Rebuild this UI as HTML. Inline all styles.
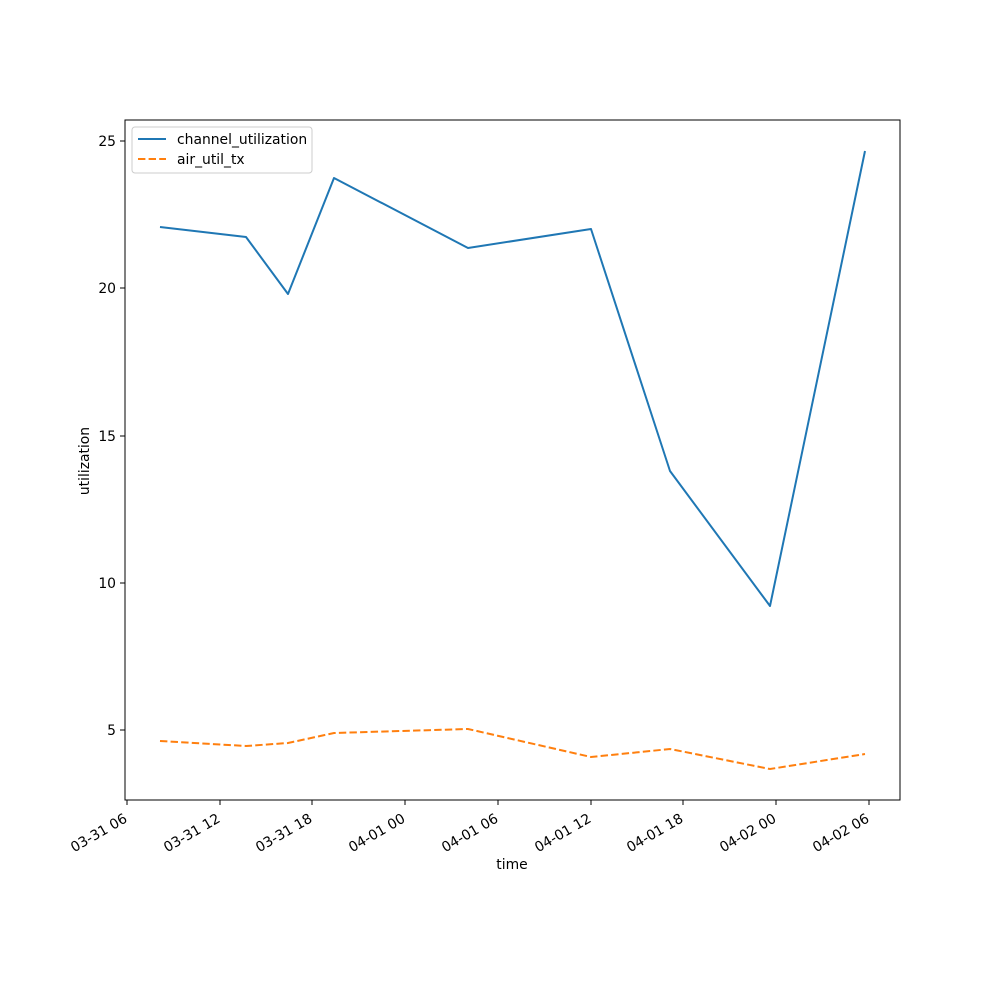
<!DOCTYPE html>
<html><head><style>body{margin:0;background:#fff}svg{display:block}</style></head>
<body>
<svg width="1000" height="1000" viewBox="0 0 1000 1000" xmlns="http://www.w3.org/2000/svg" font-family="DejaVu Sans, Liberation Sans, sans-serif" font-size="13.9">
<rect width="1000" height="1000" fill="#fff"/>
<polyline fill="none" stroke="#1f77b4" stroke-width="2" stroke-linejoin="round" points="160,227 246,237 288,294 334,178 468,248 591,229 670,471 770,606 865,151"/>
<polyline fill="none" stroke="#ff7f0e" stroke-width="2" stroke-dasharray="7.4,3.2" points="160,741 246,746 288,743 334,733 468,729 591,757 670,749 770,769 865,754"/>
<rect x="125" y="120" width="775" height="680" fill="none" stroke="#000" stroke-width="1"/>
<g stroke="#000">
<line x1="120" x2="125" y1="141" y2="141"/><line x1="120" x2="125" y1="288" y2="288"/><line x1="120" x2="125" y1="436" y2="436"/><line x1="120" x2="125" y1="583" y2="583"/><line x1="120" x2="125" y1="730" y2="730"/>
<line y1="800" y2="805" x1="127" x2="127"/><line y1="800" y2="805" x1="220" x2="220"/><line y1="800" y2="805" x1="312" x2="312"/><line y1="800" y2="805" x1="405" x2="405"/><line y1="800" y2="805" x1="498" x2="498"/><line y1="800" y2="805" x1="591" x2="591"/><line y1="800" y2="805" x1="683" x2="683"/><line y1="800" y2="805" x1="776" x2="776"/><line y1="800" y2="805" x1="869" x2="869"/>
</g>
<g text-anchor="end">
<text x="116" y="146">25</text><text x="116" y="293">20</text><text x="116" y="441">15</text><text x="116" y="588">10</text><text x="116" y="735">5</text>
</g>
<g text-anchor="end">
<text transform="translate(124,814) rotate(-30)" dy="0.6em">03-31 06</text>
<text transform="translate(217,814) rotate(-30)" dy="0.6em">03-31 12</text>
<text transform="translate(309,814) rotate(-30)" dy="0.6em">03-31 18</text>
<text transform="translate(402,814) rotate(-30)" dy="0.6em">04-01 00</text>
<text transform="translate(495,814) rotate(-30)" dy="0.6em">04-01 06</text>
<text transform="translate(588,814) rotate(-30)" dy="0.6em">04-01 12</text>
<text transform="translate(680,814) rotate(-30)" dy="0.6em">04-01 18</text>
<text transform="translate(773,814) rotate(-30)" dy="0.6em">04-02 00</text>
<text transform="translate(866,814) rotate(-30)" dy="0.6em">04-02 06</text>
</g>
<text x="512" y="869" text-anchor="middle">time</text>
<text transform="translate(89,461) rotate(-90)" text-anchor="middle">utilization</text>
<rect x="132" y="127" width="180" height="46" rx="3" fill="#fff" fill-opacity="0.8" stroke="#ccc"/>
<line x1="138" x2="166" y1="139" y2="139" stroke="#1f77b4" stroke-width="2"/>
<line x1="138" x2="166" y1="159" y2="159" stroke="#ff7f0e" stroke-width="2" stroke-dasharray="7.4,3.2"/>
<text x="177" y="144">channel_utilization</text>
<text x="177" y="164">air_util_tx</text>
</svg>
</body></html>
